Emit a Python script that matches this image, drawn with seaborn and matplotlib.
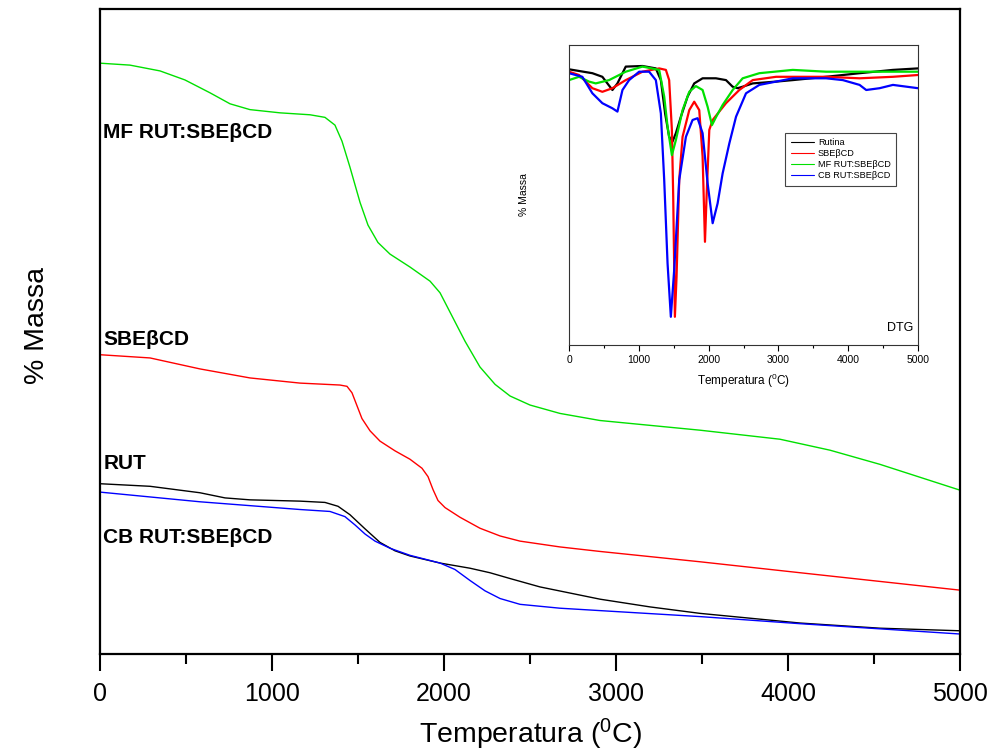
import matplotlib
matplotlib.use("Agg")
import matplotlib.pyplot as plt
from matplotlib.ticker import MultipleLocator
import seaborn as sns

# ---------------- TGA data (main plot) ----------------
mf_temp = [0, 174, 349, 494, 640, 756, 872, 1047, 1221, 1308, 1366, 1407, 1453, 1512, 1558,
           1616, 1686, 1802, 1919, 1977, 2035, 2122, 2209, 2297, 2384, 2500, 2674, 2907,
           3488, 3953, 4244, 4535, 5000]
mf_mass = [91.6, 91.3, 90.4, 89.0, 87.0, 85.3, 84.4, 83.9, 83.6, 83.2, 82.0, 79.5, 75.5,
           70.0, 66.5, 63.8, 62.0, 60.0, 57.8, 56.0, 53.0, 48.5, 44.5, 41.8, 40.0, 38.6,
           37.3, 36.2, 34.7, 33.3, 31.6, 29.4, 25.4]

sbe_temp = [0, 291, 581, 872, 1163, 1395, 1436, 1465, 1494, 1523, 1570, 1628, 1715, 1802,
            1872, 1907, 1936, 1965, 2006, 2093, 2209, 2326, 2442, 2674, 2907, 3488, 4070,
            5000]
sbe_mass = [46.4, 45.9, 44.2, 42.8, 42.0, 41.7, 41.5, 40.5, 38.5, 36.5, 34.6, 33.0, 31.5,
            30.2, 28.8, 27.5, 25.5, 23.8, 22.7, 21.2, 19.5, 18.3, 17.5, 16.6, 15.9, 14.3,
            12.6, 9.9]

rut_temp = [0, 291, 581, 727, 872, 1163, 1308, 1384, 1453, 1541, 1628, 1715, 1802, 1977,
            2151, 2267, 2384, 2558, 2907, 3198, 3488, 4070, 4535, 5000]
rut_mass = [26.4, 26.0, 25.0, 24.2, 23.9, 23.7, 23.5, 22.9, 21.6, 19.4, 17.3, 16.0, 15.2,
            14.1, 13.3, 12.6, 11.7, 10.4, 8.5, 7.3, 6.3, 4.8, 4.0, 3.6]

cb_temp = [0, 581, 1163, 1337, 1424, 1483, 1541, 1599, 1686, 1802, 1977, 2064, 2151, 2238,
           2326, 2442, 2674, 3488, 4070, 5000]
cb_mass = [25.1, 23.6, 22.4, 22.1, 21.3, 20.0, 18.6, 17.5, 16.4, 15.3, 14.1, 13.1, 11.4,
           9.8, 8.6, 7.7, 7.1, 5.8, 4.7, 3.1]

# ---------------- DTG data (inset) ----------------
dtg_rut_t = [0, 335, 478, 622, 694, 813, 1053, 1244, 1316, 1378, 1435, 1483, 1531, 1603,
             1699, 1794, 1914, 2105, 2249, 2344, 2416, 2488, 2632, 2967, 3206, 3684, 4163,
             4641, 5000]
dtg_rut_v = [91.9, 90.6, 89.4, 85.0, 87.2, 92.8, 93.0, 92.2, 88.3, 77.0, 69.4, 67.8, 70.6,
             76.1, 82.8, 87.2, 88.9, 88.9, 88.3, 86.1, 85.6, 86.1, 87.2, 87.8, 88.3, 89.4,
             90.6, 91.7, 92.2]

dtg_sbe_t = [0, 144, 335, 478, 622, 813, 1053, 1292, 1388, 1435, 1474, 1493, 1517, 1541,
             1579, 1627, 1723, 1794, 1866, 1914, 1948, 1971, 2010, 2058, 2153, 2249, 2440,
             2632, 2967, 3684, 4163, 4641, 5000]
dtg_sbe_v = [91.1, 90.0, 85.6, 84.4, 85.6, 88.3, 91.1, 92.2, 91.7, 88.3, 71.7, 49.4, 9.4,
             22.8, 55.0, 69.4, 78.3, 81.1, 78.3, 62.8, 34.4, 49.4, 71.7, 75.0, 77.8, 80.6,
             85.0, 88.3, 89.4, 89.4, 88.9, 89.4, 90.0]

dtg_mf_t = [0, 144, 287, 383, 574, 813, 1053, 1292, 1364, 1412, 1474, 1531, 1627, 1723,
            1818, 1914, 1986, 2048, 2105, 2201, 2345, 2488, 2727, 3206, 3684, 4163, 5000]
dtg_mf_v = [88.3, 89.4, 87.8, 87.2, 88.3, 91.1, 92.8, 91.7, 82.8, 72.8, 63.3, 68.3, 78.3,
            84.4, 86.3, 85.0, 79.4, 73.3, 75.9, 80.0, 85.0, 88.9, 90.6, 91.7, 91.1, 91.1,
            91.1]

dtg_cb_t = [0, 191, 335, 478, 622, 694, 766, 861, 1005, 1148, 1244, 1316, 1364, 1412, 1459,
            1507, 1579, 1675, 1770, 1842, 1914, 1986, 2058, 2129, 2201, 2297, 2393, 2536,
            2727, 2967, 3206, 3684, 3923, 4163, 4258, 4450, 4641, 5000]
dtg_cb_v = [90.6, 89.4, 83.9, 80.6, 78.9, 77.8, 85.0, 88.3, 91.1, 91.1, 88.3, 77.2, 55.0,
            27.2, 9.4, 25.0, 55.0, 69.4, 75.0, 75.6, 70.6, 53.9, 40.6, 47.2, 57.2, 67.2,
            76.1, 83.9, 86.7, 87.8, 88.9, 88.9, 88.3, 86.7, 85.0, 85.6, 86.7, 85.6]

main_labels = ["MF RUT:SBEβCD", "SBEβCD", "RUT", "CB RUT:SBEβCD"]
legend_labels = ["Rutina", "SBEβCD", "MF RUT:SBEβCD", "CB RUT:SBEβCD"]
x_ticks = [0, 1000, 2000, 3000, 4000, 5000]

sns.set_style("ticks")
plt.rcParams["font.family"] = ["Liberation Sans", "DejaVu Sans"]
plt.rcParams["mathtext.fontset"] = "custom"
plt.rcParams["mathtext.rm"] = "Liberation Sans"
plt.rcParams["mathtext.it"] = "Liberation Sans:italic"
plt.rcParams["mathtext.bf"] = "Liberation Sans:bold"
plt.rcParams["text.color"] = "black"
plt.rcParams["axes.labelcolor"] = "black"
plt.rcParams["xtick.color"] = "black"
plt.rcParams["ytick.color"] = "black"

fig = plt.figure(figsize=(9.88, 7.51), dpi=100)
ax = fig.add_axes([100 / 988, 97 / 751, 860 / 988, 645 / 751])

colors = {"black": "#000000", "red": "#ff0000", "green": "#00e000", "blue": "#0000ff"}

sns.lineplot(x=mf_temp, y=mf_mass, ax=ax, color=colors["green"], lw=1.0, sort=False)
sns.lineplot(x=sbe_temp, y=sbe_mass, ax=ax, color=colors["red"], lw=1.0, sort=False)
sns.lineplot(x=rut_temp, y=rut_mass, ax=ax, color=colors["black"], lw=1.0, sort=False)
sns.lineplot(x=cb_temp, y=cb_mass, ax=ax, color=colors["blue"], lw=1.0, sort=False)

ax.set_xlim(0, 5000)
ax.set_ylim(0, 100)
ax.set_xticks(x_ticks)
ax.set_xticklabels([str(t) for t in x_ticks])
ax.xaxis.set_minor_locator(MultipleLocator(500))
ax.set_yticks([])
ax.tick_params(axis="x", which="major", direction="out", length=12, width=1.5,
               labelsize=18, pad=8)
ax.tick_params(axis="x", which="minor", direction="out", length=7, width=1.5)
for s in ax.spines.values():
    s.set_linewidth(1.6)
    s.set_color("black")
    s.set_visible(True)

ax.set_xlabel("Temperatura ($^0$C)", fontsize=20.5)
ax.xaxis.set_label_coords(0.501, -0.097)
ax.set_ylabel("% Massa", fontsize=20.5)
ax.yaxis.set_label_coords(-0.058, 0.51)

label_y = [0.808, 0.487, 0.296, 0.181]
for lab, yy in zip(main_labels, label_y):
    ax.text(0.004, yy, lab, transform=ax.transAxes, fontsize=15, fontweight="bold",
            ha="left", va="center")

# ---------------- inset ----------------
ins = fig.add_axes([569 / 988, 406 / 751, 349 / 988, 300 / 751])
lw_in = 1.6
sns.lineplot(x=dtg_rut_t, y=dtg_rut_v, ax=ins, color=colors["black"], lw=lw_in, sort=False,
             label=legend_labels[0])
sns.lineplot(x=dtg_sbe_t, y=dtg_sbe_v, ax=ins, color=colors["red"], lw=lw_in, sort=False,
             label=legend_labels[1])
sns.lineplot(x=dtg_mf_t, y=dtg_mf_v, ax=ins, color=colors["green"], lw=lw_in, sort=False,
             label=legend_labels[2])
sns.lineplot(x=dtg_cb_t, y=dtg_cb_v, ax=ins, color=colors["blue"], lw=lw_in, sort=False,
             label=legend_labels[3])
ins.set_xlim(0, 5000)
ins.set_ylim(0, 100)
ins.set_xticks(x_ticks)
ins.set_xticklabels([str(t) for t in x_ticks])
ins.xaxis.set_minor_locator(MultipleLocator(500))
ins.set_yticks([])
ins.tick_params(axis="x", which="major", direction="out", length=4, width=0.8,
                labelsize=7.5, pad=3)
ins.tick_params(axis="x", which="minor", direction="out", length=2.5, width=0.8)
for s in ins.spines.values():
    s.set_linewidth(0.8)
    s.set_color("#333333")
    s.set_visible(True)
ins.set_xlabel("Temperatura ($^0$C)", fontsize=8.5)
ins.xaxis.set_label_coords(0.5, -0.09)
ins.set_ylabel("% Massa", fontsize=7.5)
ins.yaxis.set_label_coords(-0.115, 0.5)
ins.text(0.985, 0.035, "DTG", transform=ins.transAxes, fontsize=9, ha="right", va="bottom")

leg = ins.legend(loc="upper left", bbox_to_anchor=(0.619, 0.707), fontsize=6.6,
                 frameon=True, fancybox=False, handlelength=2.6, handletextpad=0.4,
                 borderpad=0.6, labelspacing=0.22, borderaxespad=0)
leg.get_frame().set_edgecolor("#444444")
leg.get_frame().set_linewidth(0.8)
leg.get_frame().set_alpha(1.0)
for h in leg.get_lines():
    h.set_linewidth(0.8)

fig.savefig("out.png", dpi=100)
